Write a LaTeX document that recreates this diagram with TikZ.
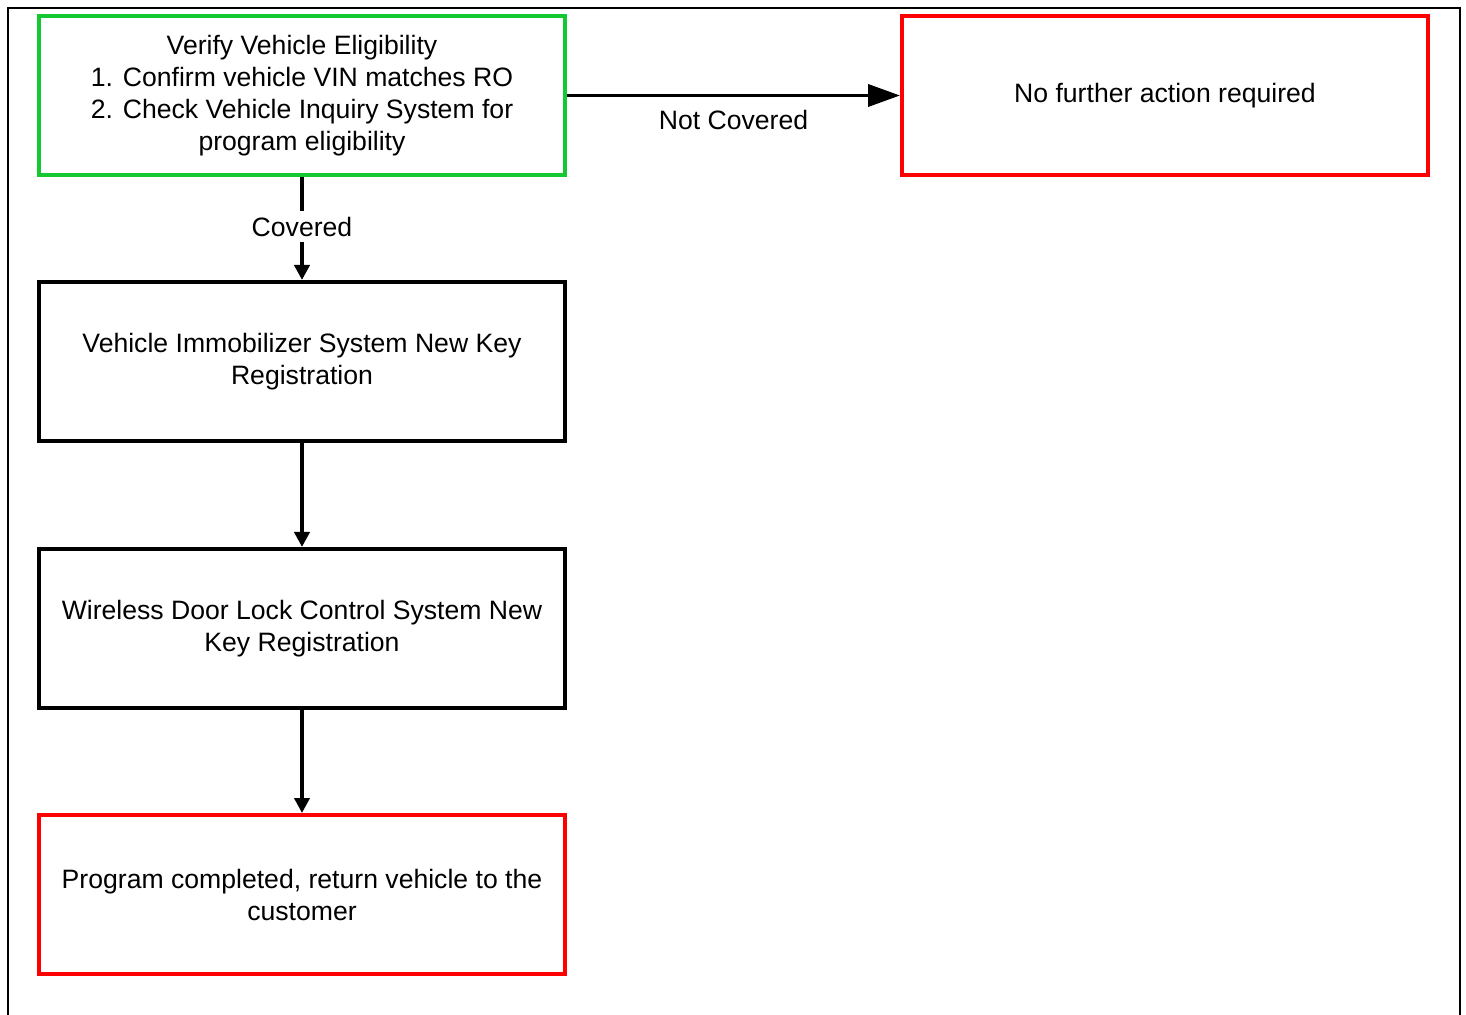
\documentclass[tikz,border=0pt]{standalone}
\usepackage{fontspec}
\setmainfont{Liberation Sans}
\usetikzlibrary{arrows.meta}
\definecolor{okgreen}{RGB}{20,200,50}
\definecolor{stopred}{RGB}{255,0,0}

\begin{document}
\begin{tikzpicture}[x=0.5pt, y=-0.5pt,
    every node/.style={font=\fontsize{13.3}{16}\selectfont},
    stepbox/.style={draw, line width=2pt, minimum width=263pt, minimum height=79.5pt, align=center},
    flow/.style={line width=1.9pt, -{Triangle[length=7.5pt,width=7.5pt]}},
    bigflow/.style={line width=1.9pt, -{Triangle[length=16pt,width=11pt]}}]
      \useasboundingbox (0,0) rectangle (1466,1015);
      \draw[line width=1pt] (8,1015) -- (8,8) -- (1460,8) -- (1460,1015);
      % boxes
      \node[stepbox, draw=okgreen] (verify) at (302, 95.5) {Verify Vehicle Eligibility\\1. Confirm vehicle VIN matches RO\\2. Check Vehicle Inquiry System for\\program eligibility};
      \node[stepbox, draw=stopred] (nofurther) at (1165, 95.5) {No further action required};
      \node[stepbox] (immob) at (302, 361.5) {Vehicle Immobilizer System New Key\\Registration};
      \node[stepbox] (doorlock) at (302, 628.5) {Wireless Door Lock Control System New\\Key Registration};
      \node[stepbox, draw=stopred] (done) at (302, 894.5) {Program completed, return vehicle to the\\customer};
      % connectors
      \draw[bigflow] (verify.east) -- node[below, yshift=-3pt] {Not Covered} (nofurther.west);
      \draw[flow] (verify.south) -- node[fill=white, inner sep=3pt, yshift=1pt] {Covered} (immob.north);
      \draw[flow] (immob.south) -- (doorlock.north);
      \draw[flow] (doorlock.south) -- (done.north);
    \end{tikzpicture}
\end{document}
